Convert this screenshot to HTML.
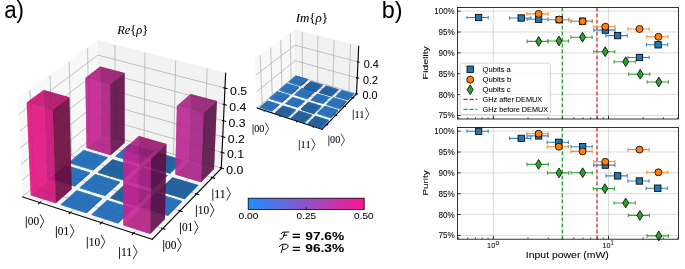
<!DOCTYPE html>
<html><head><meta charset="utf-8"><style>html,body{margin:0;padding:0;background:#fff;}#w{position:absolute;left:0;top:0;width:685px;height:269px;will-change:transform;background:#fff}svg{display:block}text{stroke:#000;stroke-width:0.06px}</style></head>
<body><div id="w"><svg width="685" height="269" viewBox="0 0 685 269" font-family="Liberation Sans, sans-serif">

<rect width="685" height="269" fill="#fff"/>
<g transform="scale(1.388889)"><g> <g> <g> <path d="M 16.28 141.79 L 71.2 95.76 L 70.43 29.37 L 12.89 71.36 " style="fill: #f2f2f2; opacity: 0.5; stroke: #f2f2f2; stroke-linejoin: miter"/> </g> </g> <g> <g> <path d="M 71.2 95.76 L 159.32 121.37 L 162.46 52.7 L 70.43 29.37 " style="fill: #e6e6e6; opacity: 0.5; stroke: #e6e6e6; stroke-linejoin: miter"/> </g> </g> <g> <g> <path d="M 16.28 141.79 L 109.69 172.3 L 159.32 121.37 L 71.2 95.76 " style="fill: #ececec; opacity: 0.5; stroke: #ececec; stroke-linejoin: miter"/> </g> </g> <g> <g> <path d="M 28.77 145.87 L 83.03 99.2 L 82.77 32.49 " style="fill: none; stroke: #b0b0b0; stroke-width: 0.55"/> <path d="M 50.68 153.03 L 103.74 105.22 L 104.37 37.97 " style="fill: none; stroke: #b0b0b0; stroke-width: 0.55"/> <path d="M 73.14 160.36 L 124.93 111.38 L 126.5 43.58 " style="fill: none; stroke: #b0b0b0; stroke-width: 0.55"/> <path d="M 96.19 167.89 L 146.63 117.68 L 149.18 49.33 " style="fill: none; stroke: #b0b0b0; stroke-width: 0.55"/> </g> </g> <g> <g> <path d="M 21.58 65.02 L 24.55 134.86 L 117.19 164.6 " style="fill: none; stroke: #b0b0b0; stroke-width: 0.55"/> <path d="M 36.01 54.49 L 38.29 123.34 L 129.64 151.83 " style="fill: none; stroke: #b0b0b0; stroke-width: 0.55"/> <path d="M 49.83 44.41 L 51.48 112.28 L 141.56 139.6 " style="fill: none; stroke: #b0b0b0; stroke-width: 0.55"/> <path d="M 63.07 34.74 L 64.15 101.67 L 152.97 127.88 " style="fill: none; stroke: #b0b0b0; stroke-width: 0.55"/> </g> </g> <g> <g> <path d="M 159.34 120.93 L 71.19 95.33 L 16.26 141.34 " style="fill: none; stroke: #b0b0b0; stroke-width: 0.55"/> <path d="M 159.85 109.76 L 71.07 84.51 L 15.7 129.9 " style="fill: none; stroke: #b0b0b0; stroke-width: 0.55"/> <path d="M 160.37 98.42 L 70.94 73.54 L 15.14 118.28 " style="fill: none; stroke: #b0b0b0; stroke-width: 0.55"/> <path d="M 160.9 86.92 L 70.81 62.41 L 14.58 106.49 " style="fill: none; stroke: #b0b0b0; stroke-width: 0.55"/> <path d="M 161.43 75.24 L 70.68 51.13 L 14 94.51 " style="fill: none; stroke: #b0b0b0; stroke-width: 0.55"/> <path d="M 161.97 63.39 L 70.55 39.69 L 13.41 82.35 " style="fill: none; stroke: #b0b0b0; stroke-width: 0.55"/> </g> </g> <g> <g> <path d="M 16.28 141.79 L 109.69 172.3 " style="fill: none; stroke: #000000; stroke-width: 0.8; stroke-linecap: square"/> </g> <g> <g> <path d="M 29.25 145.47 L 27.83 146.69 " style="fill: none; stroke: #000000; stroke-width: 0.8; stroke-linecap: square"/> </g> </g> <g> <g> <path d="M 51.14 152.61 L 49.75 153.86 " style="fill: none; stroke: #000000; stroke-width: 0.8; stroke-linecap: square"/> </g> </g> <g> <g> <path d="M 73.59 159.93 L 72.23 161.22 " style="fill: none; stroke: #000000; stroke-width: 0.8; stroke-linecap: square"/> </g> </g> <g> <g> <path d="M 96.63 167.45 L 95.3 168.77 " style="fill: none; stroke: #000000; stroke-width: 0.8; stroke-linecap: square"/> </g> </g> </g> <g> <g> <path d="M 159.32 121.37 L 109.69 172.3 " style="fill: none; stroke: #000000; stroke-width: 0.8; stroke-linecap: square"/> </g> <g> <g> <path d="M 116.41 164.35 L 118.76 165.1 " style="fill: none; stroke: #000000; stroke-width: 0.8; stroke-linecap: square"/> </g> </g> <g> <g> <path d="M 128.87 151.59 L 131.18 152.31 " style="fill: none; stroke: #000000; stroke-width: 0.8; stroke-linecap: square"/> </g> </g> <g> <g> <path d="M 140.8 139.37 L 143.07 140.06 " style="fill: none; stroke: #000000; stroke-width: 0.8; stroke-linecap: square"/> </g> </g> <g> <g> <path d="M 152.23 127.66 L 154.47 128.32 " style="fill: none; stroke: #000000; stroke-width: 0.8; stroke-linecap: square"/> </g> </g> </g> <g> <g> <path d="M 159.32 121.37 L 162.46 52.7 " style="fill: none; stroke: #000000; stroke-width: 0.8; stroke-linecap: square"/> </g> <g> <g> <path d="M 158.6 120.71 L 160.82 121.36 " style="fill: none; stroke: #000000; stroke-width: 0.8; stroke-linecap: square"/> </g> </g> <g> <g> <path d="M 159.11 109.54 L 161.34 110.18 " style="fill: none; stroke: #000000; stroke-width: 0.8; stroke-linecap: square"/> </g> </g> <g> <g> <path d="M 159.62 98.21 L 161.87 98.84 " style="fill: none; stroke: #000000; stroke-width: 0.8; stroke-linecap: square"/> </g> </g> <g> <g> <path d="M 160.14 86.71 L 162.41 87.33 " style="fill: none; stroke: #000000; stroke-width: 0.8; stroke-linecap: square"/> </g> </g> <g> <g> <path d="M 160.67 75.04 L 162.96 75.65 " style="fill: none; stroke: #000000; stroke-width: 0.8; stroke-linecap: square"/> </g> </g> <g> <g> <path d="M 161.21 63.19 L 163.51 63.79 " style="fill: none; stroke: #000000; stroke-width: 0.8; stroke-linecap: square"/> </g> </g> </g> <g> <g> <path d="M 62.32 106.61 L 72.62 97.92 L 89.72 102.9 L 79.6 111.76 z " style="fill: #761557; fill-opacity: 0.7"/> <path d="M 93.18 103.91 L 93.18 103.48 L 110.68 108.58 L 110.67 109.01 z " style="fill: #0d3c6a; fill-opacity: 0.7"/> <path d="M 83.1 112.81 L 83.1 112.37 L 93.18 103.48 L 93.18 103.91 z " style="fill: #1b7fe1; fill-opacity: 0.7"/> <path d="M 72.62 97.92 L 72.09 47.96 L 89.73 52.61 L 89.72 102.9 z " style="fill: #5c1044; fill-opacity: 0.7"/> <path d="M 62.32 106.61 L 61.44 56.08 L 72.09 47.96 L 72.62 97.92 z " style="fill: #c32290; fill-opacity: 0.7"/> <path d="M 83.1 112.81 L 93.18 103.91 L 110.67 109.01 L 100.8 118.09 z " style="fill: #104d88; fill-opacity: 0.7"/> <path d="M 60.21 108.39 L 60.2 107.95 L 77.52 113.14 L 77.53 113.58 z " style="fill: #0d3c6a; fill-opacity: 0.7"/> <path d="M 83.1 112.37 L 100.8 117.64 L 110.68 108.58 L 93.18 103.48 z " style="fill: #186ec3; fill-opacity: 0.7"/> <path d="M 114.22 110.05 L 114.22 110.49 L 132.12 115.71 L 132.13 115.27 z " style="fill: #1b7fe1; fill-opacity: 0.7"/> <path d="M 49.48 117.44 L 49.47 117 L 60.2 107.95 L 60.21 108.39 z " style="fill: #1b7fe1; fill-opacity: 0.7"/> <path d="M 100.8 118.09 L 110.67 109.01 L 110.68 108.58 L 100.8 117.64 z " style="fill: #0d3c6a; fill-opacity: 0.7"/> <path d="M 104.39 119.16 L 104.38 119.6 L 114.22 110.49 L 114.22 110.05 z " style="fill: #0c3c6a; fill-opacity: 0.7"/> <path d="M 83.1 112.81 L 100.8 118.09 L 100.8 117.64 L 83.1 112.37 z " style="fill: #1b7fe1; fill-opacity: 0.7"/> <path d="M 49.48 117.44 L 60.21 108.39 L 77.53 113.58 L 66.99 122.81 z " style="fill: #104d88; fill-opacity: 0.7"/> <path d="M 49.47 117 L 66.98 122.37 L 77.52 113.14 L 60.2 107.95 z " style="fill: #186ec3; fill-opacity: 0.7"/> <path d="M 79.6 111.76 L 89.72 102.9 L 89.73 52.61 L 79.28 60.89 z " style="fill: #5c1044; fill-opacity: 0.7"/> <path d="M 104.38 119.6 L 122.49 125.01 L 132.12 115.71 L 114.22 110.49 z " style="fill: #176ec3; fill-opacity: 0.7"/> <path d="M 81.04 114.63 L 81.04 115.07 L 98.77 120.39 L 98.77 119.94 z " style="fill: #1b7fe1; fill-opacity: 0.7"/> <path d="M 104.39 119.16 L 114.22 110.05 L 132.13 115.27 L 122.5 124.56 z " style="fill: #104d88; fill-opacity: 0.7"/> <path d="M 62.32 106.61 L 79.6 111.76 L 79.28 60.89 L 61.44 56.08 z " style="fill: #c32290; fill-opacity: 0.7"/> <path d="M 66.99 122.81 L 77.53 113.58 L 77.52 113.14 L 66.98 122.37 z " style="fill: #0d3c6a; fill-opacity: 0.7"/> <path d="M 70.54 123.9 L 70.55 124.35 L 81.04 115.07 L 81.04 114.63 z " style="fill: #0c3c6a; fill-opacity: 0.7"/> <path d="M 122.5 124.56 L 132.13 115.27 L 132.12 115.71 L 122.49 125.01 z " style="fill: #1b7fe1; fill-opacity: 0.7"/> <path d="M 49.48 117.44 L 66.99 122.81 L 66.98 122.37 L 49.47 117 z " style="fill: #1b7fe1; fill-opacity: 0.7"/> <path d="M 104.39 119.16 L 122.5 124.56 L 122.49 125.01 L 104.38 119.6 z " style="fill: #0c3c6a; fill-opacity: 0.7"/> <path d="M 70.55 124.35 L 88.48 129.85 L 98.77 120.39 L 81.04 115.07 z " style="fill: #176ec3; fill-opacity: 0.7"/> <path d="M 61.44 56.08 L 79.28 60.89 L 89.73 52.61 L 72.09 47.96 z " style="fill: #a91e7d; fill-opacity: 0.7"/> <path d="M 70.54 123.9 L 81.04 114.63 L 98.77 119.94 L 88.48 129.4 z " style="fill: #104d88; fill-opacity: 0.7"/> <path d="M 47.28 119.3 L 47.27 118.85 L 64.82 124.26 L 64.83 124.7 z " style="fill: #0d3c6a; fill-opacity: 0.7"/> <path d="M 126.18 125.66 L 135.76 116.33 L 154.09 121.68 L 144.73 131.19 z " style="fill: #711759; fill-opacity: 0.7"/> <path d="M 102.37 121.02 L 102.38 120.58 L 120.54 126.02 L 120.53 126.46 z " style="fill: #0d3c6a; fill-opacity: 0.7"/> <path d="M 36.1 128.73 L 36.09 128.28 L 47.27 118.85 L 47.28 119.3 z " style="fill: #1b7fe1; fill-opacity: 0.7"/> <path d="M 88.48 129.4 L 98.77 119.94 L 98.77 120.39 L 88.48 129.85 z " style="fill: #1b7fe1; fill-opacity: 0.7"/> <path d="M 92.12 130.52 L 92.12 130.07 L 102.38 120.58 L 102.37 121.02 z " style="fill: #1b7fe1; fill-opacity: 0.7"/> <path d="M 70.54 123.9 L 88.48 129.4 L 88.48 129.85 L 70.55 124.35 z " style="fill: #0c3c6a; fill-opacity: 0.7"/> <path d="M 36.1 128.73 L 47.28 119.3 L 64.83 124.7 L 53.85 134.32 z " style="fill: #104d88; fill-opacity: 0.7"/> <path d="M 36.09 128.28 L 53.84 133.87 L 64.82 124.26 L 47.27 118.85 z " style="fill: #186ec3; fill-opacity: 0.7"/> <path d="M 135.76 116.33 L 137.24 67.63 L 156.17 72.64 L 154.09 121.68 z " style="fill: #581246; fill-opacity: 0.7"/> <path d="M 92.12 130.52 L 102.37 121.02 L 120.53 126.46 L 110.49 136.15 z " style="fill: #104d88; fill-opacity: 0.7"/> <path d="M 68.39 125.8 L 68.39 125.35 L 86.37 130.89 L 86.37 131.34 z " style="fill: #0d3c6a; fill-opacity: 0.7"/> <path d="M 92.12 130.07 L 110.5 135.7 L 120.54 126.02 L 102.38 120.58 z " style="fill: #186ec3; fill-opacity: 0.7"/> <path d="M 53.85 134.32 L 64.83 124.7 L 64.82 124.26 L 53.84 133.87 z " style="fill: #0d3c6a; fill-opacity: 0.7"/> <path d="M 126.18 125.66 L 127.37 76.38 L 137.24 67.63 L 135.76 116.33 z " style="fill: #bb2794; fill-opacity: 0.7"/> <path d="M 124.22 127.57 L 124.21 128.01 L 142.8 133.59 L 142.82 133.14 z " style="fill: #1b7fe1; fill-opacity: 0.7"/> <path d="M 57.45 135.46 L 57.44 135.01 L 68.39 125.35 L 68.39 125.8 z " style="fill: #1b7fe1; fill-opacity: 0.7"/> <path d="M 110.49 136.15 L 120.53 126.46 L 120.54 126.02 L 110.5 135.7 z " style="fill: #0d3c6a; fill-opacity: 0.7"/> <path d="M 36.1 128.73 L 53.85 134.32 L 53.84 133.87 L 36.09 128.28 z " style="fill: #1b7fe1; fill-opacity: 0.7"/> <path d="M 114.23 137.29 L 114.22 137.74 L 124.21 128.01 L 124.22 127.57 z " style="fill: #0c3c6a; fill-opacity: 0.7"/> <path d="M 92.12 130.52 L 110.49 136.15 L 110.5 135.7 L 92.12 130.07 z " style="fill: #1b7fe1; fill-opacity: 0.7"/> <path d="M 57.45 135.46 L 68.39 125.8 L 86.37 131.34 L 75.63 141.2 z " style="fill: #104d88; fill-opacity: 0.7"/> <path d="M 57.44 135.01 L 75.63 140.74 L 86.37 130.89 L 68.39 125.35 z " style="fill: #186ec3; fill-opacity: 0.7"/> <path d="M 114.22 137.74 L 133.04 143.52 L 142.8 133.59 L 124.21 128.01 z " style="fill: #176ec3; fill-opacity: 0.7"/> <path d="M 90.02 132.46 L 90.02 132.91 L 108.43 138.59 L 108.44 138.13 z " style="fill: #1b7fe1; fill-opacity: 0.7"/> <path d="M 114.23 137.29 L 124.22 127.57 L 142.82 133.14 L 133.06 143.07 z " style="fill: #104d88; fill-opacity: 0.7"/> <path d="M 144.73 131.19 L 154.09 121.68 L 156.17 72.64 L 146.55 81.58 z " style="fill: #581246; fill-opacity: 0.7"/> <path d="M 75.63 141.2 L 86.37 131.34 L 86.37 130.89 L 75.63 140.74 z " style="fill: #0d3c6a; fill-opacity: 0.7"/> <path d="M 79.33 142.36 L 79.33 142.81 L 90.02 132.91 L 90.02 132.46 z " style="fill: #0c3c6a; fill-opacity: 0.7"/> <path d="M 126.18 125.66 L 144.73 131.19 L 146.55 81.58 L 127.37 76.38 z " style="fill: #bb2794; fill-opacity: 0.7"/> <path d="M 133.06 143.07 L 142.82 133.14 L 142.8 133.59 L 133.04 143.52 z " style="fill: #1b7fe1; fill-opacity: 0.7"/> <path d="M 57.45 135.46 L 75.63 141.2 L 75.63 140.74 L 57.44 135.01 z " style="fill: #1b7fe1; fill-opacity: 0.7"/> <path d="M 22.16 140.49 L 33.81 130.66 L 51.6 136.3 L 40.14 146.33 z " style="fill: #880b4e; fill-opacity: 0.7"/> <path d="M 114.23 137.29 L 133.06 143.07 L 133.04 143.52 L 114.22 137.74 z " style="fill: #0c3c6a; fill-opacity: 0.7"/> <path d="M 79.33 142.81 L 97.96 148.7 L 108.43 138.59 L 90.02 132.91 z " style="fill: #176ec3; fill-opacity: 0.7"/> <path d="M 79.33 142.36 L 90.02 132.46 L 108.44 138.13 L 97.97 148.24 z " style="fill: #104d88; fill-opacity: 0.7"/> <path d="M 55.21 137.44 L 55.2 136.99 L 73.43 142.76 L 73.43 143.22 z " style="fill: #0d3c6a; fill-opacity: 0.7"/> <path d="M 127.37 76.38 L 146.55 81.58 L 156.17 72.64 L 137.24 67.63 z " style="fill: #a22281; fill-opacity: 0.7"/> <path d="M 112.18 139.29 L 112.19 138.83 L 131.07 144.64 L 131.06 145.1 z " style="fill: #0d3c6a; fill-opacity: 0.7"/> <path d="M 43.79 147.52 L 43.78 147.06 L 55.2 136.99 L 55.21 137.44 z " style="fill: #1b7fe1; fill-opacity: 0.7"/> <path d="M 97.97 148.24 L 108.44 138.13 L 108.43 138.59 L 97.96 148.7 z " style="fill: #1b7fe1; fill-opacity: 0.7"/> <path d="M 101.75 149.43 L 101.76 148.97 L 112.19 138.83 L 112.18 139.29 z " style="fill: #1b7fe1; fill-opacity: 0.7"/> <path d="M 79.33 142.36 L 97.97 148.24 L 97.96 148.7 L 79.33 142.81 z " style="fill: #0c3c6a; fill-opacity: 0.7"/> <path d="M 43.79 147.52 L 55.21 137.44 L 73.43 143.22 L 62.23 153.51 z " style="fill: #104d88; fill-opacity: 0.7"/> <path d="M 33.81 130.66 L 31.42 64.77 L 49.96 69.95 L 51.6 136.3 z " style="fill: #6a083d; fill-opacity: 0.7"/> <path d="M 43.78 147.06 L 62.22 153.05 L 73.43 142.76 L 55.2 136.99 z " style="fill: #186ec3; fill-opacity: 0.7"/> <path d="M 101.75 149.43 L 112.18 139.29 L 131.06 145.1 L 120.86 155.46 z " style="fill: #104d88; fill-opacity: 0.7"/> <path d="M 77.14 144.39 L 77.13 143.93 L 95.82 149.85 L 95.82 150.31 z " style="fill: #0d3c6a; fill-opacity: 0.7"/> <path d="M 101.76 148.97 L 120.87 155 L 131.07 144.64 L 112.19 138.83 z " style="fill: #186ec3; fill-opacity: 0.7"/> <path d="M 22.16 140.49 L 19.21 73.81 L 31.42 64.77 L 33.81 130.66 z " style="fill: #e11282; fill-opacity: 0.7"/> <path d="M 62.23 153.51 L 73.43 143.22 L 73.43 142.76 L 62.22 153.05 z " style="fill: #0d3c6a; fill-opacity: 0.7"/> <path d="M 65.97 154.72 L 65.97 154.26 L 77.13 143.93 L 77.14 144.39 z " style="fill: #1b7fe1; fill-opacity: 0.7"/> <path d="M 120.86 155.46 L 131.06 145.1 L 131.07 144.64 L 120.87 155 z " style="fill: #0d3c6a; fill-opacity: 0.7"/> <path d="M 43.79 147.52 L 62.23 153.51 L 62.22 153.05 L 43.78 147.06 z " style="fill: #1b7fe1; fill-opacity: 0.7"/> <path d="M 101.75 149.43 L 120.86 155.46 L 120.87 155 L 101.76 148.97 z " style="fill: #1b7fe1; fill-opacity: 0.7"/> <path d="M 65.97 154.72 L 77.14 144.39 L 95.82 150.31 L 84.88 160.87 z " style="fill: #104d88; fill-opacity: 0.7"/> <path d="M 65.97 154.26 L 84.88 160.4 L 95.82 149.85 L 77.13 143.93 z " style="fill: #186ec3; fill-opacity: 0.7"/> <path d="M 40.14 146.33 L 51.6 136.3 L 49.96 69.95 L 37.96 79.19 z " style="fill: #6a083d; fill-opacity: 0.7"/> <path d="M 84.88 160.87 L 95.82 150.31 L 95.82 149.85 L 84.88 160.4 z " style="fill: #0d3c6a; fill-opacity: 0.7"/> <path d="M 22.16 140.49 L 40.14 146.33 L 37.96 79.19 L 19.21 73.81 z " style="fill: #e11282; fill-opacity: 0.7"/> <path d="M 65.97 154.72 L 84.88 160.87 L 84.88 160.4 L 65.97 154.26 z " style="fill: #1b7fe1; fill-opacity: 0.7"/> <path d="M 88.73 162.11 L 99.62 151.51 L 118.78 157.59 L 108.13 168.41 z " style="fill: #761557; fill-opacity: 0.7"/> <path d="M 19.21 73.81 L 37.96 79.19 L 49.96 69.95 L 31.42 64.77 z " style="fill: #c30f71; fill-opacity: 0.7"/> <path d="M 99.62 151.51 L 99.99 98 L 119.84 103.71 L 118.78 157.59 z " style="fill: #5c1044; fill-opacity: 0.7"/> <path d="M 88.73 162.11 L 88.71 107.96 L 99.99 98 L 99.62 151.51 z " style="fill: #c42290; fill-opacity: 0.7"/> <path d="M 108.13 168.41 L 118.78 157.59 L 119.84 103.71 L 108.82 113.89 z " style="fill: #5c1044; fill-opacity: 0.7"/> <path d="M 88.73 162.11 L 108.13 168.41 L 108.82 113.89 L 88.71 107.96 z " style="fill: #c42290; fill-opacity: 0.7"/> <path d="M 88.71 107.96 L 108.82 113.89 L 119.84 103.71 L 99.99 98 z " style="fill: #aa1e7d; fill-opacity: 0.7"/> </g> </g> <g> <path d="M 178.93 98.29 L 262.03 98.29 L 262.03 15.19 L 178.93 15.19 z " style="fill: #ffffff"/> </g> <g> <g> <path d="M 185.21 77.8 L 212.65 54.8 L 212.27 21.62 L 183.51 42.61 " style="fill: #f2f2f2; opacity: 0.5; stroke: #f2f2f2; stroke-linejoin: miter"/> </g> </g> <g> <g> <path d="M 212.65 54.8 L 256.69 67.6 L 258.26 33.28 L 212.27 21.62 " style="fill: #e6e6e6; opacity: 0.5; stroke: #e6e6e6; stroke-linejoin: miter"/> </g> </g> <g> <g> <path d="M 185.21 77.8 L 231.89 93.05 L 256.69 67.6 L 212.65 54.8 " style="fill: #ececec; opacity: 0.5; stroke: #ececec; stroke-linejoin: miter"/> </g> </g> <g> <g> <path d="M 190.6 79.56 L 217.76 56.28 L 217.59 22.97 " style="fill: none; stroke: #b0b0b0; stroke-width: 0.55"/> <path d="M 202.08 83.31 L 228.61 59.44 L 228.91 25.84 " style="fill: none; stroke: #b0b0b0; stroke-width: 0.55"/> <path d="M 213.86 87.16 L 239.73 62.67 L 240.52 28.78 " style="fill: none; stroke: #b0b0b0; stroke-width: 0.55"/> <path d="M 225.97 91.11 L 251.12 65.98 L 252.44 31.8 " style="fill: none; stroke: #b0b0b0; stroke-width: 0.55"/> </g> </g> <g> <g> <path d="M 187.28 39.86 L 188.79 74.8 L 235.13 89.71 " style="fill: none; stroke: #b0b0b0; stroke-width: 0.55"/> <path d="M 194.86 34.32 L 196.02 68.74 L 241.68 83 " style="fill: none; stroke: #b0b0b0; stroke-width: 0.55"/> <path d="M 202.11 29.03 L 202.94 62.94 L 247.93 76.58 " style="fill: none; stroke: #b0b0b0; stroke-width: 0.55"/> <path d="M 209.05 23.97 L 209.57 57.38 L 253.91 70.45 " style="fill: none; stroke: #b0b0b0; stroke-width: 0.55"/> </g> </g> <g> <g> <path d="M 256.7 67.38 L 212.65 54.58 L 185.2 77.57 " style="fill: none; stroke: #b0b0b0; stroke-width: 0.55"/> <path d="M 257.21 56.13 L 212.52 43.69 L 184.64 66.05 " style="fill: none; stroke: #b0b0b0; stroke-width: 0.55"/> <path d="M 257.74 44.55 L 212.39 32.5 L 184.07 54.17 " style="fill: none; stroke: #b0b0b0; stroke-width: 0.55"/> </g> </g> <g> <g> <path d="M 185.21 77.8 L 231.89 93.05 " style="fill: none; stroke: #000000; stroke-width: 0.8; stroke-linecap: square"/> </g> <g> <g> <path d="M 190.84 79.36 L 190.13 79.97 " style="fill: none; stroke: #000000; stroke-width: 0.8; stroke-linecap: square"/> </g> </g> <g> <g> <path d="M 202.31 83.1 L 201.61 83.73 " style="fill: none; stroke: #000000; stroke-width: 0.8; stroke-linecap: square"/> </g> </g> <g> <g> <path d="M 214.09 86.94 L 213.41 87.59 " style="fill: none; stroke: #000000; stroke-width: 0.8; stroke-linecap: square"/> </g> </g> <g> <g> <path d="M 226.19 90.89 L 225.52 91.55 " style="fill: none; stroke: #000000; stroke-width: 0.8; stroke-linecap: square"/> </g> </g> </g> <g> <g> <path d="M 256.69 67.6 L 231.89 93.05 " style="fill: none; stroke: #000000; stroke-width: 0.8; stroke-linecap: square"/> </g> <g> <g> <path d="M 234.74 89.59 L 235.92 89.97 " style="fill: none; stroke: #000000; stroke-width: 0.8; stroke-linecap: square"/> </g> </g> <g> <g> <path d="M 241.3 82.88 L 242.45 83.24 " style="fill: none; stroke: #000000; stroke-width: 0.8; stroke-linecap: square"/> </g> </g> <g> <g> <path d="M 247.55 76.47 L 248.69 76.81 " style="fill: none; stroke: #000000; stroke-width: 0.8; stroke-linecap: square"/> </g> </g> <g> <g> <path d="M 253.54 70.34 L 254.66 70.66 " style="fill: none; stroke: #000000; stroke-width: 0.8; stroke-linecap: square"/> </g> </g> </g> <g> <g> <path d="M 256.69 67.6 L 258.26 33.28 " style="fill: none; stroke: #000000; stroke-width: 0.8; stroke-linecap: square"/> </g> <g> <g> <path d="M 256.33 67.27 L 257.44 67.59 " style="fill: none; stroke: #000000; stroke-width: 0.8; stroke-linecap: square"/> </g> </g> <g> <g> <path d="M 256.84 56.02 L 257.96 56.34 " style="fill: none; stroke: #000000; stroke-width: 0.8; stroke-linecap: square"/> </g> </g> <g> <g> <path d="M 257.36 44.44 L 258.51 44.75 " style="fill: none; stroke: #000000; stroke-width: 0.8; stroke-linecap: square"/> </g> </g> </g> <g> <g> <path d="M 212.98 55.25 L 212.97 54.44 L 221.57 56.94 L 221.57 57.75 z " style="fill: #0f3b69; fill-opacity: 0.7"/> <path d="M 207.79 59.61 L 207.78 58.8 L 212.97 54.44 L 212.98 55.25 z " style="fill: #207cdf; fill-opacity: 0.7"/> <path d="M 207.79 59.61 L 212.98 55.25 L 221.57 57.75 L 216.48 62.2 z " style="fill: #134b86; fill-opacity: 0.7"/> <path d="M 207.78 58.8 L 216.47 61.38 L 221.57 56.94 L 212.97 54.44 z " style="fill: #1c6cc1; fill-opacity: 0.7"/> <path d="M 223.74 58.38 L 223.74 59.2 L 232.53 61.76 L 232.54 60.95 z " style="fill: #1b7fe1; fill-opacity: 0.7"/> <path d="M 216.48 62.2 L 221.57 57.75 L 221.57 56.94 L 216.47 61.38 z " style="fill: #0f3b69; fill-opacity: 0.7"/> <path d="M 218.68 62.85 L 218.68 63.67 L 223.74 59.2 L 223.74 58.38 z " style="fill: #0c3c6a; fill-opacity: 0.7"/> <path d="M 207.79 59.61 L 216.48 62.2 L 216.47 61.38 L 207.78 58.8 z " style="fill: #207cdf; fill-opacity: 0.7"/> <path d="M 218.68 63.67 L 227.57 66.33 L 232.53 61.76 L 223.74 59.2 z " style="fill: #176ec3; fill-opacity: 0.7"/> <path d="M 218.68 62.85 L 223.74 58.38 L 232.54 60.95 L 227.58 65.5 z " style="fill: #104d88; fill-opacity: 0.7"/> <path d="M 206.47 60.73 L 206.45 59.91 L 215.17 62.51 L 215.18 63.33 z " style="fill: #0f3b69; fill-opacity: 0.7"/> <path d="M 234.77 61.59 L 234.75 62.41 L 243.76 65.04 L 243.79 64.22 z " style="fill: #1b7fe1; fill-opacity: 0.7"/> <path d="M 227.58 65.5 L 232.54 60.95 L 232.53 61.76 L 227.57 66.33 z " style="fill: #1b7fe1; fill-opacity: 0.7"/> <path d="M 201.06 65.28 L 201.04 64.45 L 206.45 59.91 L 206.47 60.73 z " style="fill: #207cdf; fill-opacity: 0.7"/> <path d="M 229.83 66.17 L 229.82 67 L 234.75 62.41 L 234.77 61.59 z " style="fill: #0c3c6a; fill-opacity: 0.7"/> <path d="M 218.68 62.85 L 227.58 65.5 L 227.57 66.33 L 218.68 63.67 z " style="fill: #0c3c6a; fill-opacity: 0.7"/> <path d="M 201.06 65.28 L 206.47 60.73 L 215.18 63.33 L 209.86 67.97 z " style="fill: #134b86; fill-opacity: 0.7"/> <path d="M 201.04 64.45 L 209.85 67.14 L 215.17 62.51 L 206.45 59.91 z " style="fill: #1c6cc1; fill-opacity: 0.7"/> <path d="M 229.82 67 L 238.93 69.72 L 243.76 65.04 L 234.75 62.41 z " style="fill: #176ec3; fill-opacity: 0.7"/> <path d="M 229.83 66.17 L 234.77 61.59 L 243.79 64.22 L 238.95 68.89 z " style="fill: #104d88; fill-opacity: 0.7"/> <path d="M 217.38 63.99 L 217.38 63.17 L 226.31 65.83 L 226.31 66.67 z " style="fill: #0f3b69; fill-opacity: 0.7"/> <path d="M 209.86 67.97 L 215.18 63.33 L 215.17 62.51 L 209.85 67.14 z " style="fill: #0f3b69; fill-opacity: 0.7"/> <path d="M 246.07 64.88 L 246.07 64.88 L 255.31 67.57 L 255.31 67.57 z " style="fill: #135ea6; fill-opacity: 0.7"/> <path d="M 238.95 68.89 L 243.79 64.22 L 243.76 65.04 L 238.93 69.72 z " style="fill: #1b7fe1; fill-opacity: 0.7"/> <path d="M 212.09 68.66 L 212.08 67.82 L 217.38 63.17 L 217.38 63.99 z " style="fill: #207cdf; fill-opacity: 0.7"/> <path d="M 201.06 65.28 L 209.86 67.97 L 209.85 67.14 L 201.04 64.45 z " style="fill: #207cdf; fill-opacity: 0.7"/> <path d="M 241.26 69.58 L 241.26 69.58 L 246.07 64.88 L 246.07 64.88 z " style="fill: #135ea6; fill-opacity: 0.7"/> <path d="M 229.83 66.17 L 238.95 68.89 L 238.93 69.72 L 229.82 67 z " style="fill: #0c3c6a; fill-opacity: 0.7"/> <path d="M 212.09 68.66 L 217.38 63.99 L 226.31 66.67 L 221.12 71.42 z " style="fill: #134b86; fill-opacity: 0.7"/> <path d="M 199.68 66.44 L 199.65 65.61 L 208.49 68.32 L 208.51 69.16 z " style="fill: #0f3b69; fill-opacity: 0.7"/> <path d="M 212.08 67.82 L 221.12 70.58 L 226.31 65.83 L 217.38 63.17 z " style="fill: #1c6cc1; fill-opacity: 0.7"/> <path d="M 241.26 69.58 L 246.07 64.88 L 255.31 67.57 L 250.62 72.36 z " style="fill: #104d88; fill-opacity: 0.7"/> <path d="M 241.26 69.58 L 250.62 72.36 L 255.31 67.57 L 246.07 64.88 z " style="fill: #176ec3; fill-opacity: 0.7"/> <path d="M 228.57 67.34 L 228.57 67.34 L 237.72 70.08 L 237.72 70.08 z " style="fill: #135ea6; fill-opacity: 0.7"/> <path d="M 194.03 71.19 L 194 70.35 L 199.65 65.61 L 199.68 66.44 z " style="fill: #207cdf; fill-opacity: 0.7"/> <path d="M 221.12 71.42 L 226.31 66.67 L 226.31 65.83 L 221.12 70.58 z " style="fill: #0f3b69; fill-opacity: 0.7"/> <path d="M 223.41 72.12 L 223.41 72.12 L 228.57 67.34 L 228.57 67.34 z " style="fill: #135ea6; fill-opacity: 0.7"/> <path d="M 250.62 72.36 L 255.31 67.57 L 255.31 67.57 L 250.62 72.36 z " style="fill: #135ea6; fill-opacity: 0.7"/> <path d="M 212.09 68.66 L 221.12 71.42 L 221.12 70.58 L 212.08 67.82 z " style="fill: #207cdf; fill-opacity: 0.7"/> <path d="M 194.03 71.19 L 199.68 66.44 L 208.51 69.16 L 202.96 74 z " style="fill: #134b86; fill-opacity: 0.7"/> <path d="M 194 70.35 L 202.94 73.16 L 208.49 68.32 L 199.65 65.61 z " style="fill: #1c6cc1; fill-opacity: 0.7"/> <path d="M 241.26 69.58 L 250.62 72.36 L 250.62 72.36 L 241.26 69.58 z " style="fill: #135ea6; fill-opacity: 0.7"/> <path d="M 223.41 72.12 L 228.57 67.34 L 237.72 70.08 L 232.67 74.96 z " style="fill: #104d88; fill-opacity: 0.7"/> <path d="M 223.41 72.12 L 232.67 74.96 L 237.72 70.08 L 228.57 67.34 z " style="fill: #176ec3; fill-opacity: 0.7"/> <path d="M 210.74 69.85 L 210.74 69.85 L 219.8 72.64 L 219.8 72.64 z " style="fill: #135ea6; fill-opacity: 0.7"/> <path d="M 202.96 74 L 208.51 69.16 L 208.49 68.32 L 202.94 73.16 z " style="fill: #0f3b69; fill-opacity: 0.7"/> <path d="M 205.22 74.72 L 205.22 74.72 L 210.74 69.85 L 210.74 69.85 z " style="fill: #135ea6; fill-opacity: 0.7"/> <path d="M 240.03 70.78 L 240.05 69.94 L 249.45 72.74 L 249.42 73.59 z " style="fill: #0f3b69; fill-opacity: 0.7"/> <path d="M 232.67 74.96 L 237.72 70.08 L 237.72 70.08 L 232.67 74.96 z " style="fill: #135ea6; fill-opacity: 0.7"/> <path d="M 194.03 71.19 L 202.96 74 L 202.94 73.16 L 194 70.35 z " style="fill: #207cdf; fill-opacity: 0.7"/> <path d="M 235.01 75.68 L 235.03 74.83 L 240.05 69.94 L 240.03 70.78 z " style="fill: #207cdf; fill-opacity: 0.7"/> <path d="M 223.41 72.12 L 232.67 74.96 L 232.67 74.96 L 223.41 72.12 z " style="fill: #135ea6; fill-opacity: 0.7"/> <path d="M 205.22 74.72 L 210.74 69.85 L 219.8 72.64 L 214.38 77.61 z " style="fill: #104d88; fill-opacity: 0.7"/> <path d="M 205.22 74.72 L 214.38 77.61 L 219.8 72.64 L 210.74 69.85 z " style="fill: #176ec3; fill-opacity: 0.7"/> <path d="M 192.58 72.4 L 192.58 72.4 L 201.54 75.24 L 201.54 75.24 z " style="fill: #135ea6; fill-opacity: 0.7"/> <path d="M 222.09 73.34 L 222.09 74.19 L 231.37 77.06 L 231.38 76.21 z " style="fill: #1b7fe1; fill-opacity: 0.7"/> <path d="M 235.01 75.68 L 240.03 70.78 L 249.42 73.59 L 244.52 78.59 z " style="fill: #134b86; fill-opacity: 0.7"/> <path d="M 186.68 77.36 L 186.68 77.36 L 192.58 72.4 L 192.58 72.4 z " style="fill: #135ea6; fill-opacity: 0.7"/> <path d="M 235.03 74.83 L 244.54 77.74 L 249.45 72.74 L 240.05 69.94 z " style="fill: #1c6cc1; fill-opacity: 0.7"/> <path d="M 214.38 77.61 L 219.8 72.64 L 219.8 72.64 L 214.38 77.61 z " style="fill: #135ea6; fill-opacity: 0.7"/> <path d="M 216.7 78.34 L 216.7 79.19 L 222.09 74.19 L 222.09 73.34 z " style="fill: #0c3c6a; fill-opacity: 0.7"/> <path d="M 205.22 74.72 L 214.38 77.61 L 214.38 77.61 L 205.22 74.72 z " style="fill: #135ea6; fill-opacity: 0.7"/> <path d="M 244.52 78.59 L 249.42 73.59 L 249.45 72.74 L 244.54 77.74 z " style="fill: #0f3b69; fill-opacity: 0.7"/> <path d="M 186.68 77.36 L 192.58 72.4 L 201.54 75.24 L 195.73 80.31 z " style="fill: #104d88; fill-opacity: 0.7"/> <path d="M 186.68 77.36 L 195.73 80.31 L 201.54 75.24 L 192.58 72.4 z " style="fill: #176ec3; fill-opacity: 0.7"/> <path d="M 216.7 79.19 L 226.09 82.17 L 231.37 77.06 L 222.09 74.19 z " style="fill: #176ec3; fill-opacity: 0.7"/> <path d="M 203.8 75.96 L 203.82 76.81 L 213 79.73 L 212.99 78.88 z " style="fill: #1b7fe1; fill-opacity: 0.7"/> <path d="M 235.01 75.68 L 244.52 78.59 L 244.54 77.74 L 235.03 74.83 z " style="fill: #207cdf; fill-opacity: 0.7"/> <path d="M 216.7 78.34 L 222.09 73.34 L 231.38 76.21 L 226.1 81.31 z " style="fill: #104d88; fill-opacity: 0.7"/> <path d="M 195.73 80.31 L 201.54 75.24 L 201.54 75.24 L 195.73 80.31 z " style="fill: #135ea6; fill-opacity: 0.7"/> <path d="M 198.03 81.06 L 198.05 81.91 L 203.82 76.81 L 203.8 75.96 z " style="fill: #0c3c6a; fill-opacity: 0.7"/> <path d="M 233.73 76.93 L 233.74 76.08 L 243.29 79.02 L 243.26 79.87 z " style="fill: #0f3b69; fill-opacity: 0.7"/> <path d="M 226.1 81.31 L 231.38 76.21 L 231.37 77.06 L 226.09 82.17 z " style="fill: #1b7fe1; fill-opacity: 0.7"/> <path d="M 186.68 77.36 L 195.73 80.31 L 195.73 80.31 L 186.68 77.36 z " style="fill: #135ea6; fill-opacity: 0.7"/> <path d="M 228.48 82.06 L 228.49 81.2 L 233.74 76.08 L 233.73 76.93 z " style="fill: #207cdf; fill-opacity: 0.7"/> <path d="M 216.7 78.34 L 226.1 81.31 L 226.09 82.17 L 216.7 79.19 z " style="fill: #0c3c6a; fill-opacity: 0.7"/> <path d="M 198.05 81.91 L 207.34 84.94 L 213 79.73 L 203.82 76.81 z " style="fill: #176ec3; fill-opacity: 0.7"/> <path d="M 198.03 81.06 L 203.8 75.96 L 212.99 78.88 L 207.32 84.08 z " style="fill: #104d88; fill-opacity: 0.7"/> <path d="M 215.32 79.62 L 215.32 80.47 L 224.75 83.47 L 224.75 82.61 z " style="fill: #1b7fe1; fill-opacity: 0.7"/> <path d="M 228.48 82.06 L 233.73 76.93 L 243.26 79.87 L 238.13 85.11 z " style="fill: #134b86; fill-opacity: 0.7"/> <path d="M 207.32 84.08 L 212.99 78.88 L 213 79.73 L 207.34 84.94 z " style="fill: #1b7fe1; fill-opacity: 0.7"/> <path d="M 228.49 81.2 L 238.15 84.24 L 243.29 79.02 L 233.74 76.08 z " style="fill: #1c6cc1; fill-opacity: 0.7"/> <path d="M 209.68 84.85 L 209.69 85.71 L 215.32 80.47 L 215.32 79.62 z " style="fill: #0c3c6a; fill-opacity: 0.7"/> <path d="M 198.03 81.06 L 207.32 84.08 L 207.34 84.94 L 198.05 81.91 z " style="fill: #0c3c6a; fill-opacity: 0.7"/> <path d="M 238.13 85.11 L 243.26 79.87 L 243.29 79.02 L 238.15 84.24 z " style="fill: #0f3b69; fill-opacity: 0.7"/> <path d="M 209.69 85.71 L 219.22 88.82 L 224.75 83.47 L 215.32 80.47 z " style="fill: #176ec3; fill-opacity: 0.7"/> <path d="M 228.48 82.06 L 238.13 85.11 L 238.15 84.24 L 228.49 81.2 z " style="fill: #207cdf; fill-opacity: 0.7"/> <path d="M 209.68 84.85 L 215.32 79.62 L 224.75 82.61 L 219.22 87.96 z " style="fill: #104d88; fill-opacity: 0.7"/> <path d="M 227.14 83.37 L 227.13 84.23 L 236.8 87.32 L 236.82 86.45 z " style="fill: #1b7fe1; fill-opacity: 0.7"/> <path d="M 219.22 87.96 L 224.75 82.61 L 224.75 83.47 L 219.22 88.82 z " style="fill: #1b7fe1; fill-opacity: 0.7"/> <path d="M 221.64 88.74 L 221.64 89.61 L 227.13 84.23 L 227.14 83.37 z " style="fill: #0c3c6a; fill-opacity: 0.7"/> <path d="M 209.68 84.85 L 219.22 87.96 L 219.22 88.82 L 209.69 85.71 z " style="fill: #0c3c6a; fill-opacity: 0.7"/> <path d="M 221.64 89.61 L 231.43 92.81 L 236.8 87.32 L 227.13 84.23 z " style="fill: #176ec3; fill-opacity: 0.7"/> <path d="M 221.64 88.74 L 227.14 83.37 L 236.82 86.45 L 231.45 91.93 z " style="fill: #104d88; fill-opacity: 0.7"/> <path d="M 231.45 91.93 L 236.82 86.45 L 236.8 87.32 L 231.43 92.81 z " style="fill: #1b7fe1; fill-opacity: 0.7"/> <path d="M 221.64 88.74 L 231.45 91.93 L 231.43 92.81 L 221.64 89.61 z " style="fill: #0c3c6a; fill-opacity: 0.7"/> </g> </g> </g> </g>
<path d="M26.3 216.3V228.1" stroke="#000" stroke-width="0.85" fill="none"/><text x="27.7" y="225.28" font-family="Liberation Serif" font-size="11.85" textLength="11.4" lengthAdjust="spacingAndGlyphs" fill="#000">00</text><path d="M40.1 214.3L43.9 221.2L40.1 228.1" stroke="#000" stroke-width="0.8" fill="none" stroke-linejoin="miter"/>
<path d="M56.4 226.2V238" stroke="#000" stroke-width="0.85" fill="none"/><text x="57.8" y="235.18" font-family="Liberation Serif" font-size="11.85" textLength="11.4" lengthAdjust="spacingAndGlyphs" fill="#000">01</text><path d="M70.2 224.2L74 231.1L70.2 238" stroke="#000" stroke-width="0.8" fill="none" stroke-linejoin="miter"/>
<path d="M87.3 236.8V248.6" stroke="#000" stroke-width="0.85" fill="none"/><text x="88.7" y="245.78" font-family="Liberation Serif" font-size="11.85" textLength="11.4" lengthAdjust="spacingAndGlyphs" fill="#000">10</text><path d="M101.1 234.8L104.9 241.7L101.1 248.6" stroke="#000" stroke-width="0.8" fill="none" stroke-linejoin="miter"/>
<path d="M119.5 247.1V258.9" stroke="#000" stroke-width="0.85" fill="none"/><text x="120.9" y="256.2" font-family="Liberation Serif" font-size="12.12" textLength="11.38" lengthAdjust="spacingAndGlyphs" fill="#000">11</text><path d="M133.3 245.1L137.1 252L133.3 258.9" stroke="#000" stroke-width="0.8" fill="none" stroke-linejoin="miter"/>
<path d="M163.7 240V251.8" stroke="#000" stroke-width="0.85" fill="none"/><text x="165.1" y="248.98" font-family="Liberation Serif" font-size="11.85" textLength="11.4" lengthAdjust="spacingAndGlyphs" fill="#000">00</text><path d="M177.5 238L181.3 244.9L177.5 251.8" stroke="#000" stroke-width="0.8" fill="none" stroke-linejoin="miter"/>
<path d="M180.5 222.5V234.3" stroke="#000" stroke-width="0.85" fill="none"/><text x="181.9" y="231.48" font-family="Liberation Serif" font-size="11.85" textLength="11.4" lengthAdjust="spacingAndGlyphs" fill="#000">01</text><path d="M194.3 220.5L198.1 227.4L194.3 234.3" stroke="#000" stroke-width="0.8" fill="none" stroke-linejoin="miter"/>
<path d="M196.4 205.1V216.9" stroke="#000" stroke-width="0.85" fill="none"/><text x="197.8" y="214.08" font-family="Liberation Serif" font-size="11.85" textLength="11.4" lengthAdjust="spacingAndGlyphs" fill="#000">10</text><path d="M210.2 203.1L214 210L210.2 216.9" stroke="#000" stroke-width="0.8" fill="none" stroke-linejoin="miter"/>
<path d="M212.8 188.8V200.6" stroke="#000" stroke-width="0.85" fill="none"/><text x="214.2" y="197.9" font-family="Liberation Serif" font-size="12.12" textLength="11.38" lengthAdjust="spacingAndGlyphs" fill="#000">11</text><path d="M226.6 186.8L230.4 193.7L226.6 200.6" stroke="#000" stroke-width="0.8" fill="none" stroke-linejoin="miter"/>
<path d="M253.05 124.3V134.8" stroke="#000" stroke-width="0.76" fill="none"/><text x="254.3" y="132.29" font-family="Liberation Serif" font-size="10.55" textLength="10.15" lengthAdjust="spacingAndGlyphs" fill="#000">00</text><path d="M265.33 122.52L268.71 128.66L265.33 134.8" stroke="#000" stroke-width="0.71" fill="none" stroke-linejoin="miter"/>
<path d="M299.35 140.1V150.6" stroke="#000" stroke-width="0.76" fill="none"/><text x="300.6" y="148.2" font-family="Liberation Serif" font-size="10.79" textLength="10.12" lengthAdjust="spacingAndGlyphs" fill="#000">11</text><path d="M311.63 138.32L315.01 144.46L311.63 150.6" stroke="#000" stroke-width="0.71" fill="none" stroke-linejoin="miter"/>
<path d="M328.85 135.5V146" stroke="#000" stroke-width="0.76" fill="none"/><text x="330.1" y="143.49" font-family="Liberation Serif" font-size="10.55" textLength="10.15" lengthAdjust="spacingAndGlyphs" fill="#000">00</text><path d="M341.13 133.72L344.51 139.86L341.13 146" stroke="#000" stroke-width="0.71" fill="none" stroke-linejoin="miter"/>
<path d="M353.25 109.5V120" stroke="#000" stroke-width="0.76" fill="none"/><text x="354.5" y="117.6" font-family="Liberation Serif" font-size="10.79" textLength="10.12" lengthAdjust="spacingAndGlyphs" fill="#000">11</text><path d="M365.53 107.72L368.91 113.86L365.53 120" stroke="#000" stroke-width="0.71" fill="none" stroke-linejoin="miter"/>
<text x="226.2" y="173.68" font-family="Liberation Sans" font-size="11.55" textLength="17.1" lengthAdjust="spacingAndGlyphs" fill="#000">0.0</text>
<text x="227" y="158.18" font-family="Liberation Sans" font-size="11.55" textLength="17.1" lengthAdjust="spacingAndGlyphs" fill="#000">0.1</text>
<text x="227.8" y="142.58" font-family="Liberation Sans" font-size="11.55" textLength="17.1" lengthAdjust="spacingAndGlyphs" fill="#000">0.2</text>
<text x="228.5" y="126.98" font-family="Liberation Sans" font-size="11.55" textLength="17.1" lengthAdjust="spacingAndGlyphs" fill="#000">0.3</text>
<text x="229.3" y="110.68" font-family="Liberation Sans" font-size="11.55" textLength="17.1" lengthAdjust="spacingAndGlyphs" fill="#000">0.4</text>
<text x="230.1" y="94.78" font-family="Liberation Sans" font-size="11.55" textLength="17.1" lengthAdjust="spacingAndGlyphs" fill="#000">0.5</text>
<text x="362.5" y="99.3" font-family="Liberation Sans" font-size="10.14" textLength="15" lengthAdjust="spacingAndGlyphs" fill="#000">0.0</text>
<text x="363" y="83.9" font-family="Liberation Sans" font-size="10.14" textLength="15" lengthAdjust="spacingAndGlyphs" fill="#000">0.2</text>
<text x="363.7" y="68" font-family="Liberation Sans" font-size="10.14" textLength="15" lengthAdjust="spacingAndGlyphs" fill="#000">0.4</text>
<text x="117.22" y="33.8" font-size="13.2" textLength="31.08" lengthAdjust="spacingAndGlyphs" fill="#000"><tspan font-family="Liberation Serif" font-style="italic">Re</tspan><tspan font-family="Liberation Serif">{</tspan><tspan font-family="Liberation Serif" font-style="italic">ρ</tspan><tspan font-family="Liberation Serif">}</tspan></text>
<text x="295.66" y="22" font-size="12.6" textLength="32.44" lengthAdjust="spacingAndGlyphs" fill="#000"><tspan font-family="Liberation Serif" font-style="italic">Im</tspan><tspan font-family="Liberation Serif">{</tspan><tspan font-family="Liberation Serif" font-style="italic">ρ</tspan><tspan font-family="Liberation Serif">}</tspan></text>
<text x="4.2" y="17.68" font-family="Liberation Sans" font-size="24.39" textLength="19.78" lengthAdjust="spacingAndGlyphs" fill="#000">a)</text>
<text x="381.8" y="17.61" font-family="Liberation Sans" font-size="24.71" textLength="20.78" lengthAdjust="spacingAndGlyphs" fill="#000">b)</text>
<defs><linearGradient id="cbg" x1="0" x2="1" y1="0" y2="0"><stop offset="0" stop-color="#1e90ff"/><stop offset="1" stop-color="#ff1493"/></linearGradient></defs>
<rect x="248.2" y="198.2" width="116" height="11.2" fill="url(#cbg)" stroke="#000" stroke-width="0.8"/>
<path d="M306.2 209.4V207.3" stroke="#000" stroke-width="0.8"/>
<text x="238.6" y="219.1" font-family="Liberation Sans" font-size="9.58" textLength="19.81" lengthAdjust="spacingAndGlyphs" fill="#000">0.00</text>
<text x="296.6" y="219.1" font-family="Liberation Sans" font-size="9.58" textLength="19.41" lengthAdjust="spacingAndGlyphs" fill="#000">0.25</text>
<text x="354.1" y="219.1" font-family="Liberation Sans" font-size="9.58" textLength="19.51" lengthAdjust="spacingAndGlyphs" fill="#000">0.50</text>
<path d="M281.2 233.7C281.6 232.6 282.8 232.1 284.2 232.1L288.9 232.0M284.8 232.3C284.3 234.5 283.4 237.5 281.7 239.1C281 239.8 280.3 239.4 280 238.6M283.6 235.3L286.8 235.2M279.5 246.7C280 245.4 281 244.6 283.2 244.2C285.5 243.9 288.1 244.3 288.1 246.2C288.1 248.3 285.6 249.4 283.2 249.5M283 245.2C282.7 247.8 282.1 250.5 281.2 252.7" fill="none" stroke="#000" stroke-width="1" stroke-linecap="round"/>
<path d="M292.7 234.3H300.1M292.7 237.2H300.1M292.7 247.4H300.1M292.7 250.3H300.1" stroke="#000" stroke-width="1.35" fill="none"/>
<text x="305.3" y="239.58" font-family="Liberation Sans" font-size="11.69" font-weight="bold" textLength="38.91" lengthAdjust="spacingAndGlyphs" fill="#000">97.6%</text>
<text x="305.3" y="252.19" font-family="Liberation Sans" font-size="10.85" font-weight="bold" textLength="38.91" lengthAdjust="spacingAndGlyphs" fill="#000">96.3%</text>
<path d="M457.4 11.15H678.5M457.4 32H678.5M457.4 52.85H678.5M457.4 73.7H678.5M457.4 94.55H678.5M457.4 115.4H678.5M493.3 7.4V119M608.5 7.4V119" stroke="#b0b0b0" stroke-width="0.6" opacity="0.8" fill="none"/>
<path d="M562.3 7.4V119" stroke="#2ca02c" stroke-width="1.3" stroke-dasharray="4.2 1.8" fill="none"/>
<path d="M597 7.4V119" stroke="#d62728" stroke-width="1.3" stroke-dasharray="4.2 1.8" fill="none"/>
<path d="M467 17.5H488.2M467 15.7v3.6M488.2 15.7v3.6M509.6 18H530.8M509.6 16.2v3.6M530.8 16.2v3.6M527 19.2H548.2M527 17.4v3.6M548.2 17.4v3.6M547.6 19.7H568.8M547.6 17.9v3.6M568.8 17.9v3.6M571 21.2H592.2M571 19.4v3.6M592.2 19.4v3.6M593.8 30.1H615M593.8 28.3v3.6M615 28.3v3.6M606 35.6H627.2M606 33.8v3.6M627.2 33.8v3.6M627.9 57.5H649.1M627.9 55.7v3.6M649.1 55.7v3.6M646.5 44.8H667.7M646.5 43v3.6M667.7 43v3.6" stroke="#3a84c4" stroke-width="1.1" fill="none"/>
<rect x="475.4" y="14.3" width="6.4" height="6.4" fill="#1f77b4" stroke="#000" stroke-width="0.8"/>
<rect x="518" y="14.8" width="6.4" height="6.4" fill="#1f77b4" stroke="#000" stroke-width="0.8"/>
<rect x="535.4" y="16" width="6.4" height="6.4" fill="#1f77b4" stroke="#000" stroke-width="0.8"/>
<rect x="556" y="16.5" width="6.4" height="6.4" fill="#1f77b4" stroke="#000" stroke-width="0.8"/>
<rect x="579.4" y="18" width="6.4" height="6.4" fill="#1f77b4" stroke="#000" stroke-width="0.8"/>
<rect x="602.2" y="26.9" width="6.4" height="6.4" fill="#1f77b4" stroke="#000" stroke-width="0.8"/>
<rect x="614.4" y="32.4" width="6.4" height="6.4" fill="#1f77b4" stroke="#000" stroke-width="0.8"/>
<rect x="636.3" y="54.3" width="6.4" height="6.4" fill="#1f77b4" stroke="#000" stroke-width="0.8"/>
<rect x="654.9" y="41.6" width="6.4" height="6.4" fill="#1f77b4" stroke="#000" stroke-width="0.8"/>
<path d="M527 13.9H548.2M527 12.1v3.6M548.2 12.1v3.6M547.6 19.5H568.8M547.6 17.7v3.6M568.8 17.7v3.6M571 21.4H592.2M571 19.6v3.6M592.2 19.6v3.6M593.8 26.7H615M593.8 24.9v3.6M615 24.9v3.6M627.9 29H649.1M627.9 27.2v3.6M649.1 27.2v3.6M646.8 36.8H668M646.8 35v3.6M668 35v3.6" stroke="#f98b32" stroke-width="1.1" fill="none"/>
<circle cx="538.6" cy="13.9" r="3.5" fill="#ff7f0e" stroke="#000" stroke-width="0.8"/>
<circle cx="559.2" cy="19.5" r="3.5" fill="#ff7f0e" stroke="#000" stroke-width="0.8"/>
<circle cx="582.6" cy="21.4" r="3.5" fill="#ff7f0e" stroke="#000" stroke-width="0.8"/>
<circle cx="605.4" cy="26.7" r="3.5" fill="#ff7f0e" stroke="#000" stroke-width="0.8"/>
<circle cx="639.5" cy="29" r="3.5" fill="#ff7f0e" stroke="#000" stroke-width="0.8"/>
<circle cx="658.4" cy="36.8" r="3.5" fill="#ff7f0e" stroke="#000" stroke-width="0.8"/>
<path d="M527.1 41.4H548.3M527.1 39.6v3.6M548.3 39.6v3.6M547.4 41H568.6M547.4 39.2v3.6M568.6 39.2v3.6M570.9 37.2H592.1M570.9 35.4v3.6M592.1 35.4v3.6M593.6 51.7H614.8M593.6 49.9v3.6M614.8 49.9v3.6M614.1 61.7H635.3M614.1 59.9v3.6M635.3 59.9v3.6M628.6 74.3H649.8M628.6 72.5v3.6M649.8 72.5v3.6M647.2 82H668.4M647.2 80.2v3.6M668.4 80.2v3.6" stroke="#3fa23f" stroke-width="1.1" fill="none"/>
<path d="M538.7 36.5l3 4.9l-3 4.9l-3 -4.9z" fill="#2ca02c" stroke="#000" stroke-width="0.8"/>
<path d="M559 36.1l3 4.9l-3 4.9l-3 -4.9z" fill="#2ca02c" stroke="#000" stroke-width="0.8"/>
<path d="M582.5 32.3l3 4.9l-3 4.9l-3 -4.9z" fill="#2ca02c" stroke="#000" stroke-width="0.8"/>
<path d="M605.2 46.8l3 4.9l-3 4.9l-3 -4.9z" fill="#2ca02c" stroke="#000" stroke-width="0.8"/>
<path d="M625.7 56.8l3 4.9l-3 4.9l-3 -4.9z" fill="#2ca02c" stroke="#000" stroke-width="0.8"/>
<path d="M640.2 69.4l3 4.9l-3 4.9l-3 -4.9z" fill="#2ca02c" stroke="#000" stroke-width="0.8"/>
<path d="M658.8 77.1l3 4.9l-3 4.9l-3 -4.9z" fill="#2ca02c" stroke="#000" stroke-width="0.8"/>
<path d="M457.4 11.15h3.3M457.4 32h3.3M457.4 52.85h3.3M457.4 73.7h3.3M457.4 94.55h3.3M457.4 115.4h3.3M493.3 119v-3.3M608.5 119v-3.3" stroke="#000" stroke-width="0.8" fill="none"/>
<path d="M458.62 119v-1.9M467.74 119v-1.9M475.46 119v-1.9M482.14 119v-1.9M488.03 119v-1.9M527.98 119v-1.9M548.26 119v-1.9M562.66 119v-1.9M573.82 119v-1.9M582.94 119v-1.9M590.66 119v-1.9M597.34 119v-1.9M603.23 119v-1.9M643.18 119v-1.9M663.46 119v-1.9M677.86 119v-1.9" stroke="#000" stroke-width="0.6" fill="none"/>
<rect x="457.4" y="7.4" width="221.1" height="111.6" fill="none" stroke="#000" stroke-width="0.8"/>
<text x="434.3" y="14.16" font-family="Liberation Sans" font-size="8.8" textLength="20.38" lengthAdjust="spacingAndGlyphs" fill="#000">100%</text>
<text x="438.5" y="35.01" font-family="Liberation Sans" font-size="8.8" textLength="16.21" lengthAdjust="spacingAndGlyphs" fill="#000">95%</text>
<text x="438.5" y="55.86" font-family="Liberation Sans" font-size="8.8" textLength="16.21" lengthAdjust="spacingAndGlyphs" fill="#000">90%</text>
<text x="438.5" y="76.71" font-family="Liberation Sans" font-size="8.8" textLength="16.21" lengthAdjust="spacingAndGlyphs" fill="#000">85%</text>
<text x="438.5" y="97.56" font-family="Liberation Sans" font-size="8.8" textLength="16.21" lengthAdjust="spacingAndGlyphs" fill="#000">80%</text>
<text x="438.5" y="118.41" font-family="Liberation Sans" font-size="8.87" textLength="16.21" lengthAdjust="spacingAndGlyphs" fill="#000">75%</text>
<path d="M457.4 131.15H678.5M457.4 152H678.5M457.4 172.85H678.5M457.4 193.7H678.5M457.4 214.55H678.5M457.4 235.4H678.5M493.3 127.4V239.2M608.5 127.4V239.2" stroke="#b0b0b0" stroke-width="0.6" opacity="0.8" fill="none"/>
<path d="M562.3 127.4V239.2" stroke="#2ca02c" stroke-width="1.3" stroke-dasharray="4.2 1.8" fill="none"/>
<path d="M597 127.4V239.2" stroke="#d62728" stroke-width="1.3" stroke-dasharray="4.2 1.8" fill="none"/>
<path d="M467 131.3H488.2M467 129.5v3.6M488.2 129.5v3.6M509.6 138.4H530.8M509.6 136.6v3.6M530.8 136.6v3.6M527 135.9H548.2M527 134.1v3.6M548.2 134.1v3.6M547.2 142.3H568.4M547.2 140.5v3.6M568.4 140.5v3.6M571 146.7H592.2M571 144.9v3.6M592.2 144.9v3.6M593.7 165.1H614.9M593.7 163.3v3.6M614.9 163.3v3.6M606 175.9H627.2M606 174.1v3.6M627.2 174.1v3.6M627.8 181H649M627.8 179.2v3.6M649 179.2v3.6M646.2 188.2H667.4M646.2 186.4v3.6M667.4 186.4v3.6" stroke="#3a84c4" stroke-width="1.1" fill="none"/>
<rect x="475.4" y="128.1" width="6.4" height="6.4" fill="#1f77b4" stroke="#000" stroke-width="0.8"/>
<rect x="518" y="135.2" width="6.4" height="6.4" fill="#1f77b4" stroke="#000" stroke-width="0.8"/>
<rect x="535.4" y="132.7" width="6.4" height="6.4" fill="#1f77b4" stroke="#000" stroke-width="0.8"/>
<rect x="555.6" y="139.1" width="6.4" height="6.4" fill="#1f77b4" stroke="#000" stroke-width="0.8"/>
<rect x="579.4" y="143.5" width="6.4" height="6.4" fill="#1f77b4" stroke="#000" stroke-width="0.8"/>
<rect x="602.1" y="161.9" width="6.4" height="6.4" fill="#1f77b4" stroke="#000" stroke-width="0.8"/>
<rect x="614.4" y="172.7" width="6.4" height="6.4" fill="#1f77b4" stroke="#000" stroke-width="0.8"/>
<rect x="636.2" y="177.8" width="6.4" height="6.4" fill="#1f77b4" stroke="#000" stroke-width="0.8"/>
<rect x="654.6" y="185" width="6.4" height="6.4" fill="#1f77b4" stroke="#000" stroke-width="0.8"/>
<path d="M527 133.7H548.2M527 131.9v3.6M548.2 131.9v3.6M547.2 146.7H568.4M547.2 144.9v3.6M568.4 144.9v3.6M571 151.4H592.2M571 149.6v3.6M592.2 149.6v3.6M593.7 161.8H614.9M593.7 160v3.6M614.9 160v3.6M627.9 149.6H649.1M627.9 147.8v3.6M649.1 147.8v3.6M646.8 172.3H668M646.8 170.5v3.6M668 170.5v3.6" stroke="#f98b32" stroke-width="1.1" fill="none"/>
<circle cx="538.6" cy="133.7" r="3.5" fill="#ff7f0e" stroke="#000" stroke-width="0.8"/>
<circle cx="558.8" cy="146.7" r="3.5" fill="#ff7f0e" stroke="#000" stroke-width="0.8"/>
<circle cx="582.6" cy="151.4" r="3.5" fill="#ff7f0e" stroke="#000" stroke-width="0.8"/>
<circle cx="605.3" cy="161.8" r="3.5" fill="#ff7f0e" stroke="#000" stroke-width="0.8"/>
<circle cx="639.5" cy="149.6" r="3.5" fill="#ff7f0e" stroke="#000" stroke-width="0.8"/>
<circle cx="658.4" cy="172.3" r="3.5" fill="#ff7f0e" stroke="#000" stroke-width="0.8"/>
<path d="M527 164.4H548.2M527 162.6v3.6M548.2 162.6v3.6M547.5 172.9H568.7M547.5 171.1v3.6M568.7 171.1v3.6M571.1 172.7H592.3M571.1 170.9v3.6M592.3 170.9v3.6M593.3 188.6H614.5M593.3 186.8v3.6M614.5 186.8v3.6M614.1 203H635.3M614.1 201.2v3.6M635.3 201.2v3.6M628.3 215.4H649.5M628.3 213.6v3.6M649.5 213.6v3.6M647.2 235.9H668.4M647.2 234.1v3.6M668.4 234.1v3.6" stroke="#3fa23f" stroke-width="1.1" fill="none"/>
<path d="M538.6 159.5l3 4.9l-3 4.9l-3 -4.9z" fill="#2ca02c" stroke="#000" stroke-width="0.8"/>
<path d="M559.1 168l3 4.9l-3 4.9l-3 -4.9z" fill="#2ca02c" stroke="#000" stroke-width="0.8"/>
<path d="M582.7 167.8l3 4.9l-3 4.9l-3 -4.9z" fill="#2ca02c" stroke="#000" stroke-width="0.8"/>
<path d="M604.9 183.7l3 4.9l-3 4.9l-3 -4.9z" fill="#2ca02c" stroke="#000" stroke-width="0.8"/>
<path d="M625.7 198.1l3 4.9l-3 4.9l-3 -4.9z" fill="#2ca02c" stroke="#000" stroke-width="0.8"/>
<path d="M639.9 210.5l3 4.9l-3 4.9l-3 -4.9z" fill="#2ca02c" stroke="#000" stroke-width="0.8"/>
<path d="M658.8 231l3 4.9l-3 4.9l-3 -4.9z" fill="#2ca02c" stroke="#000" stroke-width="0.8"/>
<path d="M457.4 131.15h3.3M457.4 152h3.3M457.4 172.85h3.3M457.4 193.7h3.3M457.4 214.55h3.3M457.4 235.4h3.3M493.3 239.2v-3.3M608.5 239.2v-3.3" stroke="#000" stroke-width="0.8" fill="none"/>
<path d="M458.62 239.2v-1.9M467.74 239.2v-1.9M475.46 239.2v-1.9M482.14 239.2v-1.9M488.03 239.2v-1.9M527.98 239.2v-1.9M548.26 239.2v-1.9M562.66 239.2v-1.9M573.82 239.2v-1.9M582.94 239.2v-1.9M590.66 239.2v-1.9M597.34 239.2v-1.9M603.23 239.2v-1.9M643.18 239.2v-1.9M663.46 239.2v-1.9M677.86 239.2v-1.9" stroke="#000" stroke-width="0.6" fill="none"/>
<rect x="457.4" y="127.4" width="221.1" height="111.8" fill="none" stroke="#000" stroke-width="0.8"/>
<text x="434.3" y="134.16" font-family="Liberation Sans" font-size="8.8" textLength="20.38" lengthAdjust="spacingAndGlyphs" fill="#000">100%</text>
<text x="438.5" y="155.01" font-family="Liberation Sans" font-size="8.8" textLength="16.21" lengthAdjust="spacingAndGlyphs" fill="#000">95%</text>
<text x="438.5" y="175.86" font-family="Liberation Sans" font-size="8.8" textLength="16.21" lengthAdjust="spacingAndGlyphs" fill="#000">90%</text>
<text x="438.5" y="196.71" font-family="Liberation Sans" font-size="8.8" textLength="16.21" lengthAdjust="spacingAndGlyphs" fill="#000">85%</text>
<text x="438.5" y="217.56" font-family="Liberation Sans" font-size="8.8" textLength="16.21" lengthAdjust="spacingAndGlyphs" fill="#000">80%</text>
<text x="438.5" y="238.41" font-family="Liberation Sans" font-size="8.87" textLength="16.21" lengthAdjust="spacingAndGlyphs" fill="#000">75%</text>
<rect x="460" y="63.2" width="90.4" height="51.3" rx="2" fill="#fff" fill-opacity="0.8" stroke="#cccccc" stroke-width="0.8"/>
<rect x="467" y="66" width="6.4" height="6.4" fill="#1f77b4" stroke="#000" stroke-width="0.8"/>
<circle cx="470.2" cy="79.7" r="3.5" fill="#ff7f0e" stroke="#000" stroke-width="0.8"/>
<path d="M470.2 84.8l3 4.9l-3 4.9l-3 -4.9z" fill="#2ca02c" stroke="#000" stroke-width="0.8"/>
<path d="M463.5 99.3H477.3" stroke="#d62728" stroke-width="1.3" stroke-dasharray="4.2 1.8"/>
<path d="M463.5 109.3H477.3" stroke="#2ca02c" stroke-width="1.3" stroke-dasharray="4.2 1.8"/>
<text x="482.6" y="71.5" font-family="Liberation Sans" font-size="7.7" textLength="28.26" lengthAdjust="spacingAndGlyphs" fill="#000">Qubits a</text>
<text x="482.6" y="81.6" font-family="Liberation Sans" font-size="7.7" textLength="28.59" lengthAdjust="spacingAndGlyphs" fill="#000">Qubits b</text>
<text x="482.6" y="91.5" font-family="Liberation Sans" font-size="7.7" textLength="28.08" lengthAdjust="spacingAndGlyphs" fill="#000">Qubits c</text>
<text x="482.6" y="102" font-family="Liberation Sans" font-size="7.7" textLength="59.59" lengthAdjust="spacingAndGlyphs" fill="#000">GHz after DEMUX</text>
<text x="482.6" y="112" font-family="Liberation Sans" font-size="7.7" textLength="65.48" lengthAdjust="spacingAndGlyphs" fill="#000">GHz before DEMUX</text>
<g transform="translate(0 79.5) rotate(-90)"><text x="0" y="428.01" font-family="Liberation Sans" font-size="7.59" textLength="33.37" lengthAdjust="spacingAndGlyphs" fill="#000">Fidelity</text></g>
<g transform="translate(0 195.6) rotate(-90)"><text x="0" y="428.24" font-family="Liberation Sans" font-size="7.91" textLength="25.21" lengthAdjust="spacingAndGlyphs" fill="#000">Purity</text></g>
<text x="525.8" y="258.41" font-family="Liberation Sans" font-size="8.98" textLength="83.02" lengthAdjust="spacingAndGlyphs" fill="#000">Input power (mW)</text>
<text x="487.1" y="247.72" font-family="Liberation Sans" font-size="8.03" textLength="8.12" lengthAdjust="spacingAndGlyphs" fill="#000">10</text>
<text x="495.6" y="244.94" font-family="Liberation Sans" font-size="6.2" textLength="3.61" lengthAdjust="spacingAndGlyphs" fill="#000">0</text>
<text x="602.5" y="247.72" font-family="Liberation Sans" font-size="8.03" textLength="7.92" lengthAdjust="spacingAndGlyphs" fill="#000">10</text>
<text x="610.8" y="245" font-family="Liberation Sans" font-size="6.38" textLength="2.71" lengthAdjust="spacingAndGlyphs" fill="#000">1</text>
</svg></div></body></html>
